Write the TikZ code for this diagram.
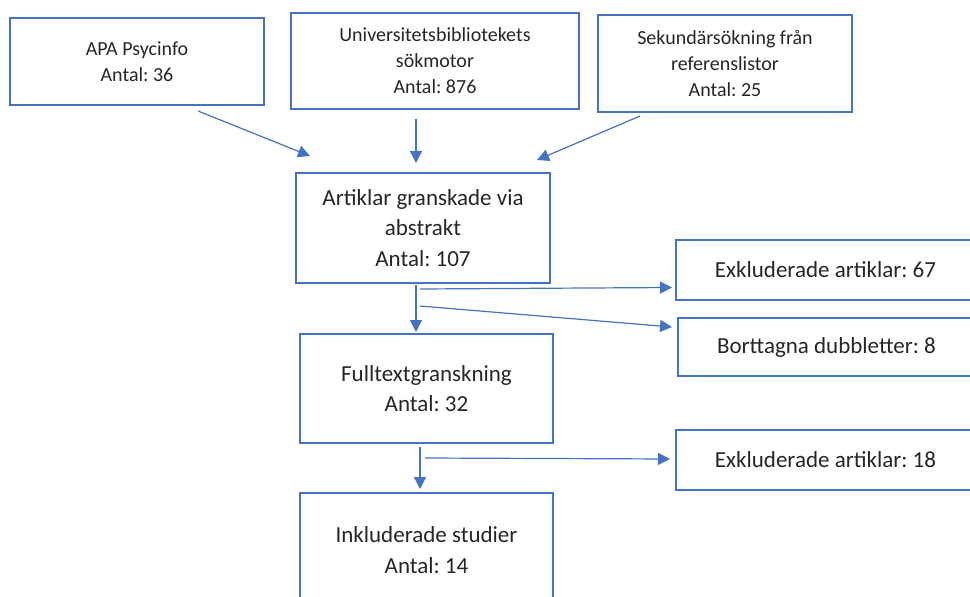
\documentclass[tikz,border=0pt]{standalone}
\usepackage{fontspec}
\setmainfont{Carlito}
\usetikzlibrary{arrows.meta}
\definecolor{boxblue}{HTML}{4472C4}
\frenchspacing
\tikzset{
  flowbox/.style={draw=boxblue, line width=2pt, rectangle, align=center,
    inner sep=0pt, text=black!85},
  smalltext/.style={font=\fontsize{20}{26}\selectfont},
  bigtext/.style={font=\fontsize{23}{30.5}\selectfont},
  flowarrow/.style={draw=boxblue, line width=1.2pt,
    -{Triangle[length=12pt,width=12pt]}}
}
\begin{document}
\begin{tikzpicture}[x=1pt,y=-1pt]
    \useasboundingbox (0,0) rectangle (970,597);
    \clip (0,0) rectangle (970,597);
    % sources
    \node[flowbox,smalltext,minimum width=254,minimum height=87] (apa) at (137,61.5)
      {APA Psycinfo\\Antal: 36};
    \node[flowbox,smalltext,minimum width=288,minimum height=96] (univ) at (435,61)
      {Universitetsbibliotekets\\sökmotor\\Antal: 876};
    \node[flowbox,smalltext,minimum width=254,minimum height=97] (sek) at (725,63.5)
      {Sekundärsökning från\\referenslistor\\Antal: 25};
    % screening
    \node[flowbox,bigtext,minimum width=254,minimum height=110] (abstr) at (423,228)
      {Artiklar granskade via\\abstrakt\\Antal: 107};
    \node[flowbox,bigtext,minimum width=299,minimum height=60] (exkl1) at (825.5,270)
      {Exkluderade artiklar: 67};
    \node[flowbox,bigtext,minimum width=297,minimum height=58] (dubb) at (826.5,347)
      {Borttagna dubbletter: 8};
    \node[flowbox,bigtext,minimum width=253,minimum height=109] (full) at (426.5,388.5)
      {Fulltextgranskning\\Antal: 32};
    \node[flowbox,bigtext,minimum width=299,minimum height=60] (exkl2) at (825.5,460)
      {Exkluderade artiklar: 18};
    \node[flowbox,bigtext,minimum width=253,minimum height=114] (inkl) at (426.5,550)
      {Inkluderade studier\\Antal: 14};
    % free arrow ends
    \coordinate (apa_s) at (198,111);
    \coordinate (apa_e) at (310,156);
    \coordinate (univ_s) at (416,119);
    \coordinate (univ_e) at (416,163);
    \coordinate (sek_s) at (640,116);
    \coordinate (sek_e) at (537,160);
    \coordinate (abstr_s) at (416,285);
    \coordinate (abstr_e) at (416,332);
    \coordinate (ex1_s) at (420,289);
    \coordinate (ex1_e) at (672,287.5);
    \coordinate (dubb_s) at (420,306);
    \coordinate (dubb_e) at (672,327);
    \coordinate (full_s) at (420,447);
    \coordinate (full_e) at (420,489);
    \coordinate (ex2_s) at (425,458);
    \coordinate (ex2_e) at (670,459);
    \draw[flowarrow] (apa_s) -- (apa_e);
    \draw[flowarrow] (univ_s) -- (univ_e);
    \draw[flowarrow] (sek_s) -- (sek_e);
    \draw[flowarrow] (abstr_s) -- (abstr_e);
    \draw[flowarrow] (ex1_s) -- (ex1_e);
    \draw[flowarrow] (dubb_s) -- (dubb_e);
    \draw[flowarrow] (full_s) -- (full_e);
    \draw[flowarrow] (ex2_s) -- (ex2_e);
\end{tikzpicture}
\end{document}
